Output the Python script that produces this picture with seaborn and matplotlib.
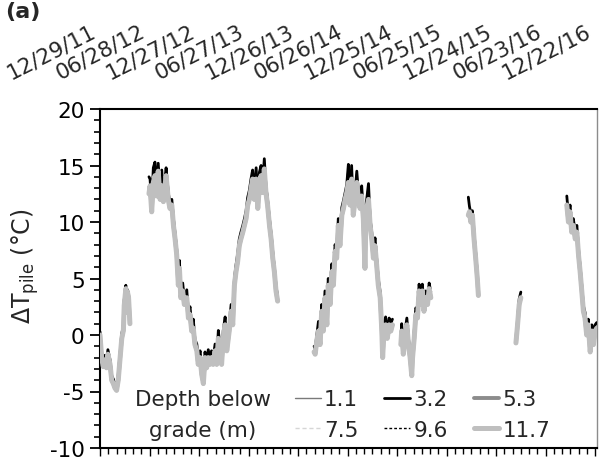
import numpy as np
import pandas as pd
import matplotlib
matplotlib.use("Agg")
import matplotlib.pyplot as plt
import matplotlib.dates as mdates
from matplotlib.lines import Line2D
import seaborn as sns

# ---------------- data ----------------
start_date = "2011-12-29"
seg_starts = [0, 180, 787, 1106, 1354, 1529, 1716]

days = [
    0, 6, 12, 18, 24, 29, 37, 43, 49, 55, 61, 67, 74, 80, 86, 89, 95, 98, 101, 105, 110,
    180, 184, 190, 196, 202, 208, 214, 221, 227, 233, 238, 243, 251, 257, 264, 270, 276, 282,
    288, 292, 297, 304, 310, 319, 325, 331, 337, 343, 349, 356, 361, 368, 374, 380, 386, 392,
    398, 404, 410, 416, 423, 429, 435, 441, 447, 453, 460, 466, 475, 482, 488, 494, 500, 506,
    512, 518, 525, 531, 537, 543, 549, 555, 561, 567, 574, 580, 586, 592, 598, 604, 610, 616,
    623, 629, 635, 641, 647, 653,
    787, 791, 797, 803, 809, 815, 821, 827, 834, 839, 846, 852, 858, 864, 870, 876, 882, 889,
    895, 901, 907, 913, 919, 925, 931, 938, 944, 950, 956, 962, 968, 974, 978, 987, 993, 999,
    1005, 1011, 1017, 1023, 1030, 1036, 1039, 1044, 1050, 1056, 1063, 1069, 1075,
    1106, 1109, 1115, 1121, 1128, 1134, 1140, 1146, 1149, 1155, 1161, 1167, 1173, 1179, 1185,
    1191, 1198, 1204, 1210, 1216,
    1354, 1358, 1363, 1369, 1375, 1381, 1387, 1391,
    1529, 1535, 1541, 1547,
    1716, 1722, 1728, 1734, 1740, 1747, 1753, 1759, 1765, 1771, 1777, 1783, 1789, 1795, 1802,
    1808, 1814, 1820, 1826,
]

t117 = [
    0.0, -2.0, -2.8, -2.2, -2.9, -1.7, -2.6, -4.0, -4.3, -4.7, -4.9, -4.0, -2.0, -0.3, 0.4, 2.6, 4.1, 2.0, 3.8, 3.3, 1.0,
    12.5, 13.2, 10.9, 13.5, 14.1, 12.3, 14.5, 12.0, 13.2, 11.8, 13.0, 14.1, 12.0, 11.2, 11.5, 9.7, 8.5, 7.1,
    4.4, 5.9, 3.3, 3.9, 2.7, 3.3, 1.5, 1.8, 0.35, 0.6, -0.85, -1.4, -2.6, -2.0, -3.5, -4.3, -2.0, -2.9,
    -2.0, -2.6, -2.0, -2.6, -1.4, -2.6, -0.3, -1.4, -2.6, -0.3, 0.9, -1.4, 0.35, 2.1, 0.9, 4.4, 5.6, 6.5,
    7.9, 8.5, 9.1, 9.7, 10.3, 11.5, 12.0, 12.9, 13.8, 12.0, 13.8, 11.2, 13.2, 14.1, 12.6, 14.7, 12.6, 11.5,
    9.7, 8.5, 6.8, 5.6, 3.9, 3.0,
    -1.5, -1.7, -0.5, 0.35, -0.85, 2.1, 0.35, 3.3, 0.9, 4.4, 2.7, 5.6, 4.4, 7.4, 6.8, 9.7, 7.9, 10.6,
    11.2, 12.0, 12.6, 13.5, 11.5, 13.8, 10.6, 12.0, 13.5, 12.0, 11.2, 12.3, 10.3, 5.9, 10.9, 12.0, 9.7, 8.5,
    6.8, 7.9, 6.2, 4.4, 3.3, 0.35, -2.0, 0.35, 0.9, -0.3, 0.9, 0.35, 0.9,
    -0.85, 0.35, -1.7, -0.3, 0.9, -0.85, -2.0, -3.6, -2.0, -0.3, 1.8, 1.5, 3.9, 2.7, 3.9,
    2.1, 3.3, 2.7, 4.1, 3.3,
    10.6, 10.9, 10.0, 10.6, 8.5, 6.8, 5.0, 3.5,
    -0.7, 0.9, 2.7, 3.3,
    11.5, 10.0, 10.9, 9.1, 9.7, 8.5, 9.1, 7.1, 5.6, 3.9, 2.1, 1.5, 0.0, 0.9, -1.5,
    0.35, -0.85, 0.35, 0.6,
]

t32 = [
    0.3, -1.6, -2.4, -1.8, -2.5, -1.3, -2.2, -3.6, -3.9, -4.4, -4.6, -3.6, -1.6, 0.1, 0.9, 3.1, 4.4, 2.5, 4.0, 3.7, 1.4,
    14.0, 13.8, 11.5, 14.8, 15.3, 12.8, 15.2, 12.5, 14.6, 12.3, 13.6, 14.8, 12.6, 11.7, 12.0, 10.3, 9.0, 7.6,
    5.0, 6.6, 3.8, 4.6, 3.2, 4.0, 1.9, 2.5, 0.8, 1.4, -0.4, -0.8, -2.2, -1.4, -3.0, -3.6, -1.5, -2.4,
    -1.3, -2.2, -1.4, -2.1, -0.8, -2.2, 0.4, -1.0, -2.2, 0.4, 1.6, -1.0, 0.9, 2.7, 1.4, 5.0, 6.2, 7.2,
    8.5, 9.1, 9.7, 10.3, 11.0, 12.2, 12.8, 13.8, 14.6, 12.6, 14.8, 11.8, 14.4, 15.0, 13.4, 15.6, 13.2, 12.0,
    10.3, 9.0, 7.4, 6.0, 4.4, 3.4,
    -1.0, -1.2, 0.0, 1.2, -0.4, 2.7, 0.9, 3.9, 1.4, 5.0, 3.3, 6.3, 5.0, 8.0, 7.4, 10.3, 8.5, 11.3,
    11.9, 12.6, 13.3, 15.1, 12.0, 15.0, 11.2, 12.7, 14.5, 12.6, 11.8, 13.2, 10.9, 6.6, 11.5, 13.4, 10.3, 9.1,
    7.4, 8.6, 6.8, 5.0, 3.8, 0.9, -1.5, 1.0, 1.6, 0.3, 1.5, 1.0, 1.4,
    -0.3, 1.0, -1.2, 0.3, 1.5, -0.3, -1.5, -3.1, -1.5, 0.3, 2.4, 2.1, 4.5, 3.3, 4.5,
    2.6, 3.9, 3.2, 4.6, 3.8,
    12.2, 11.4, 10.8, 11.0, 9.0, 7.3, 5.5, 3.9,
    -0.4, 1.3, 3.2, 3.8,
    12.3, 10.6, 11.5, 9.7, 10.3, 9.1, 9.7, 7.6, 6.1, 4.4, 2.6, 2.0, 0.6, 1.4, -1.0,
    0.9, -0.3, 0.9, 1.1,
]

# series that are hidden under the wide 11.7 m band read the same as the visible ones
t11 = t32
t53 = t117
t75 = t117
t96 = t32

depths = ["1.1", "3.2", "5.3", "7.5", "9.6", "11.7"]
series = [t11, t32, t53, t75, t96, t117]

tick_labels = ["12/29/11", "06/28/12", "12/27/12", "06/27/13", "12/26/13", "06/26/14",
               "12/25/14", "06/25/15", "12/24/15", "06/23/16", "12/22/16"]

# ---------------- build table ----------------
d0 = pd.Timestamp(start_date)
seg_id = np.searchsorted(seg_starts, days, side="right") - 1
frames = []
for dep, vals in zip(depths, series):
    frames.append(pd.DataFrame({
        "date": d0 + pd.to_timedelta(days, unit="D"),
        "value": vals,
        "seg": seg_id,
        "depth": dep,
    }))
df = pd.concat(frames, ignore_index=True)

styles = {
    "1.1": dict(color="#7a7a7a", linewidth=1.0, linestyle="-"),
    "3.2": dict(color="black", linewidth=2.0, linestyle="-"),
    "5.3": dict(color="#8c8c8c", linewidth=2.8, linestyle="-"),
    "7.5": dict(color="#d6d6d6", linewidth=1.0, linestyle=(0, (3, 2))),
    "9.6": dict(color="black", linewidth=1.0, linestyle=(0, (2, 1.5))),
    "11.7": dict(color="#bfbfbf", linewidth=3.6, linestyle="-"),
}

# ---------------- figure ----------------
sns.set_style("ticks")
plt.rcParams["font.family"] = ["DejaVu Sans"]
plt.rcParams["axes.unicode_minus"] = False
FS = 15.5
W, H = 600, 460

fig = plt.figure(figsize=(W / 100, H / 100), dpi=100)
ax = fig.add_axes([100 / W, 11 / H, 497 / W, 339 / H])

for i, dep in enumerate(depths):
    sub = df[df["depth"] == dep]
    sns.lineplot(data=sub, x="date", y="value", units="seg", estimator=None,
                 ax=ax, legend=False, zorder=2 + i, **styles[dep])

# axes ranges & ticks
ax.set_ylim(-10, 20)
ax.set_yticks(np.arange(-10, 21, 5))
ax.set_yticks(np.arange(-10, 21, 1), minor=True)
ax.set_xlim(d0, d0 + pd.Timedelta(days=1827))
major_dates = pd.date_range(d0, periods=len(tick_labels), freq="182D")
minor_dates = d0 + pd.to_timedelta(np.arange(0, 1828, 182 / 6), unit="D")
ax.set_xticks(major_dates)
ax.set_xticks(minor_dates, minor=True)
ax.set_xticklabels([])
ax.tick_params(axis="y", which="major", direction="out", length=7, width=1.3,
               labelsize=FS, pad=4, colors="black")
ax.tick_params(axis="y", which="minor", direction="out", length=4.5, width=1.2, colors="black")
ax.tick_params(axis="x", which="major", direction="out", length=5.5, width=1.0, colors="black")
ax.tick_params(axis="x", which="minor", direction="out", length=4.5, width=1.0, colors="black")

for side in ["left", "bottom", "top"]:
    ax.spines[side].set_color("black")
    ax.spines[side].set_linewidth(1.5)
ax.spines["right"].set_color("#8c8c8c")
ax.spines["right"].set_linewidth(1.0)

ax.set_xlabel("")
ax.set_ylabel("ΔT$_{\\mathregular{pile}}$ (°C)", fontsize=FS + 1.5)
ax.yaxis.set_label_coords(-0.118, 0.54)

# date labels above the plot (baseline end of each label sits just left of its tick)
for dt, lab in zip(major_dates, tick_labels):
    xpix = ax.transData.transform((mdates.date2num(dt), 0))[0]
    fig.text((xpix - 3) / W, (H - 36) / H, lab,
             rotation=27, rotation_mode="anchor", ha="right", va="baseline",
             fontsize=FS)

fig.text(5 / W, 1 - 2 / H, "(a)", fontsize=16, fontweight="bold", ha="left", va="top")

# legend
fig.text(203 / W, (H - 415.5) / H, "Depth below\ngrade (m)", fontsize=FS,
         ha="center", va="center", multialignment="center", linespacing=1.63)
handles = {dep: Line2D([], [], **styles[dep]) for dep in depths}
order = ["1.1", "7.5", "3.2", "9.6", "5.3", "11.7"]
fig.legend([handles[d] for d in order], order, ncol=3, frameon=False,
           loc="center left", bbox_to_anchor=(295 / W, (H - 415.5) / H),
           fontsize=FS, handlelength=1.2, handletextpad=0.15, columnspacing=1.2,
           borderpad=0, borderaxespad=0, labelspacing=0.5)

fig.savefig("out.png", dpi=100)
